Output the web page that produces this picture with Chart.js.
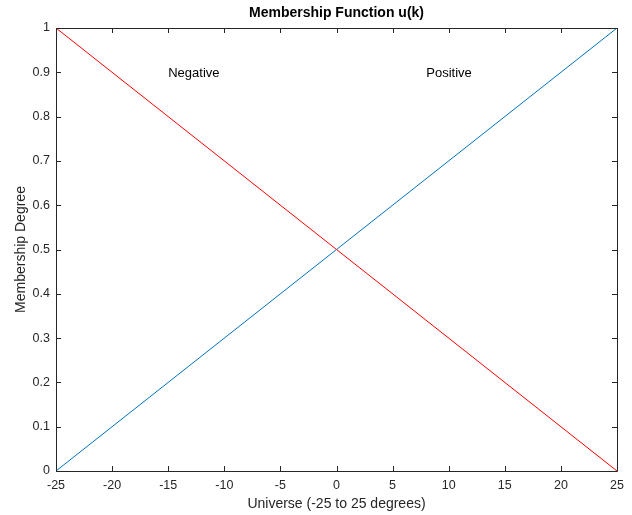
<!DOCTYPE html>
<html>
<head>
<meta charset="utf-8">
<script src="https://cdn.jsdelivr.net/npm/chart.js@4/dist/chart.umd.min.js"></script>
<style>
  html, body { margin: 0; padding: 0; background: #fff; }
  #wrap { width: 632px; height: 515px; position: relative; }
</style>
</head>
<body>
<div id="wrap"><canvas id="chMembership"></canvas></div>
<script>
// ============ 数据 ============
const universe = [-25, 25];
const negativeDeg = [1, 0];
const positiveDeg = [0, 1];
const xTicks = [-25, -20, -15, -10, -5, 0, 5, 10, 15, 20, 25];
const yTicks = [0, 0.1, 0.2, 0.3, 0.4, 0.5, 0.6, 0.7, 0.8, 0.9, 1];
const labelText = ['Negative', 'Positive'];
const labelX = [-15, 8];
const labelY = [0.9, 0.9];

const FONT = 'Liberation Sans, Arial, Helvetica, sans-serif';
const AXIS = '#262626';

// 坐标框 + 向内刻度 + 标题 + 文字标注
const boxPlugin = {
  id: 'box',
  afterDraw(chart) {
    const { ctx, chartArea: a, scales: { x, y } } = chart;
    ctx.save();
    ctx.strokeStyle = AXIS;
    ctx.lineWidth = 1;
    ctx.beginPath();
    ctx.rect(Math.round(a.left) + 0.5, Math.round(a.top) + 0.5,
      Math.round(a.right - a.left), Math.round(a.bottom - a.top));
    ctx.stroke();
    const tl = 5;
    ctx.beginPath();
    xTicks.forEach(v => {
      const px = Math.round(x.getPixelForValue(v)) + 0.5;
      ctx.moveTo(px, a.bottom); ctx.lineTo(px, a.bottom - tl);
      ctx.moveTo(px, a.top); ctx.lineTo(px, a.top + tl);
    });
    yTicks.forEach(v => {
      const py = Math.round(y.getPixelForValue(v)) + 0.5;
      ctx.moveTo(a.left, py); ctx.lineTo(a.left + tl, py);
      ctx.moveTo(a.right, py); ctx.lineTo(a.right - tl, py);
    });
    ctx.stroke();

    // 标题
    ctx.fillStyle = '#000';
    ctx.font = 'bold 14px ' + FONT;
    ctx.textAlign = 'center';
    ctx.textBaseline = 'middle';
    ctx.fillText('Membership Function u(k)', (a.left + a.right) / 2, 13);

    // 文字标注
    ctx.font = '13px ' + FONT;
    ctx.textAlign = 'left';
    labelText.forEach((t, i) => {
      ctx.fillText(t, x.getPixelForValue(labelX[i]), y.getPixelForValue(labelY[i]) + 1);
    });
    ctx.restore();
  }
};

const ctx = document.getElementById('chMembership');
new Chart(ctx, {
  type: 'line',
  data: {
    datasets: [
      { label: 'Negative', data: universe.map((u, i) => ({ x: u, y: negativeDeg[i] })), borderColor: '#ff0000', borderWidth: 1, pointRadius: 0, tension: 0 },
      { label: 'Positive', data: universe.map((u, i) => ({ x: u, y: positiveDeg[i] })), borderColor: '#0072bd', borderWidth: 1, pointRadius: 0, tension: 0 }
    ]
  },
  options: {
    responsive: true, maintainAspectRatio: false, animation: false,
    layout: { padding: { top: 28, right: 15, left: 13, bottom: 0 } },
    plugins: { legend: { display: false }, tooltip: { enabled: false } },
    scales: {
      x: {
        type: 'linear', min: -25, max: 25,
        afterBuildTicks: s => { s.ticks = xTicks.map(v => ({ value: v })); },
        afterFit: s => { s.height = 44; },
        grid: { display: false, drawTicks: false }, border: { display: false },
        ticks: { color: AXIS, padding: 7, font: { family: FONT, size: 12.5 } },
        title: { display: true, text: 'Universe (-25 to 25 degrees)', color: AXIS, padding: { top: 0, bottom: 2 }, font: { family: FONT, size: 14 } }
      },
      y: {
        type: 'linear', min: 0, max: 1,
        afterBuildTicks: s => { s.ticks = yTicks.map(v => ({ value: v })); },
        afterFit: s => { s.width = 43; },
        grid: { display: false, drawTicks: false }, border: { display: false },
        ticks: { color: AXIS, padding: 6, font: { family: FONT, size: 12.5 }, callback: v => String(+v.toFixed(1)) },
        title: { display: true, text: 'Membership Degree', color: AXIS, padding: { top: 0, bottom: 2 }, font: { family: FONT, size: 14 } }
      }
    }
  },
  plugins: [boxPlugin]
});
</script>
</body>
</html>
